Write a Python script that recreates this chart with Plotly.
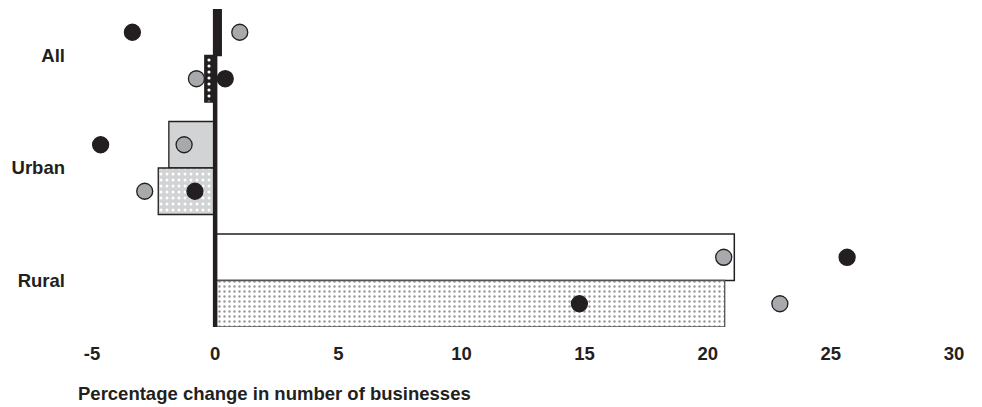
import plotly.graph_objects as go

# ---- data ----
categories = ["All", "Urban", "Rural"]
bar_top = [0.25, -1.88, 21.08]        # upper bar in each group
bar_bottom = [-0.42, -2.31, 20.69]    # lower bar in each group
black_top = [-3.36, -4.65, 25.66]
gray_top = [1.0, -1.26, 20.65]
black_bottom = [0.41, -0.82, 14.79]
gray_bottom = [-0.76, -2.86, 22.93]
x_ticks = [-5, 0, 5, 10, 15, 20, 25, 30]
x_tick_labels = ["-5", "0", "5", "10", "15", "20", "25", "30"]
x_title = "Percentage change in number of businesses"

DARK = "#231f20"
GRAY = "#a7a9ac"
LIGHT = "#d1d3d4"
FONT = "Liberation Sans, Arial, sans-serif"
FS = 18.5

GROUP_STEP = 2.42  # group spacing in bar-height units
y_top = [i * GROUP_STEP for i in range(len(categories))]
y_bottom = [y + 1 for y in y_top]
y_label = [y + 0.5 for y in y_top]

# per-category bar styles (top bar, bottom bar)
top_styles = [
    dict(color=DARK, line=dict(color=DARK, width=1.3)),
    dict(color=LIGHT, line=dict(color=DARK, width=1.3)),
    dict(color="white", line=dict(color=DARK, width=1.5)),
]
bottom_styles = [
    dict(color=DARK, line=dict(color=DARK, width=1.3),
         pattern=dict(shape=".", bgcolor=DARK, fgcolor="white",
                      size=6, solidity=0.22, fillmode="replace")),
    dict(color=LIGHT, line=dict(color=DARK, width=1.3),
         pattern=dict(shape=".", bgcolor=LIGHT, fgcolor="white",
                      size=6, solidity=0.2, fillmode="replace")),
    dict(color="white", line=dict(color="#555555", width=1.3),
         pattern=dict(shape=".", bgcolor="white", fgcolor="#999999",
                      size=5, solidity=0.18, fillmode="replace")),
]

fig = go.Figure()

for i in range(len(categories)):
    fig.add_trace(go.Bar(
        y=[y_top[i]], x=[bar_top[i]], orientation="h", width=1,
        marker=top_styles[i], hoverinfo="skip", showlegend=False,
    ))
    fig.add_trace(go.Bar(
        y=[y_bottom[i]], x=[bar_bottom[i]], orientation="h", width=1,
        marker=bottom_styles[i], hoverinfo="skip", showlegend=False,
    ))

def dots(xs, ys, color):
    return go.Scatter(
        x=xs, y=ys, mode="markers",
        marker=dict(size=16, color=color, line=dict(color=DARK, width=1.3)),
        hoverinfo="skip", showlegend=False, cliponaxis=False,
    )

fig.add_trace(dots(black_top, y_top, DARK))
fig.add_trace(dots(gray_top, y_top, GRAY))
fig.add_trace(dots(black_bottom, y_bottom, DARK))
fig.add_trace(dots(gray_bottom, y_bottom, GRAY))

# thick zero reference line
fig.add_shape(type="line", xref="x", yref="paper", x0=0, x1=0, y0=0, y1=1,
              line=dict(color=DARK, width=4.5), layer="above")

fig.update_layout(
    width=982, height=407,
    margin=dict(l=92, r=28, t=9, b=80),
    plot_bgcolor="white", paper_bgcolor="white",
    barmode="overlay",
    font=dict(family=FONT, size=FS, color=DARK, weight="bold"),
    xaxis=dict(range=[-5, 30], tickvals=x_ticks, ticktext=x_tick_labels,
               showgrid=False, showline=False, ticks="", zeroline=False,
               ticklabelstandoff=13),
    yaxis=dict(range=[y_bottom[-1] + 0.5, -0.5], tickvals=y_label,
               ticktext=categories, showgrid=False, zeroline=False,
               showline=False, ticks="", ticklabelstandoff=26),
    annotations=[dict(text=x_title, xref="paper", yref="paper",
                      x=-0.0186, y=-0.21, xanchor="left", yanchor="middle",
                      showarrow=False,
                      font=dict(family=FONT, size=FS, color=DARK, weight="bold"))],
)

fig.write_html("out.html", config={"displayModeBar": False},
               post_script="document.body.style.margin='0';")
